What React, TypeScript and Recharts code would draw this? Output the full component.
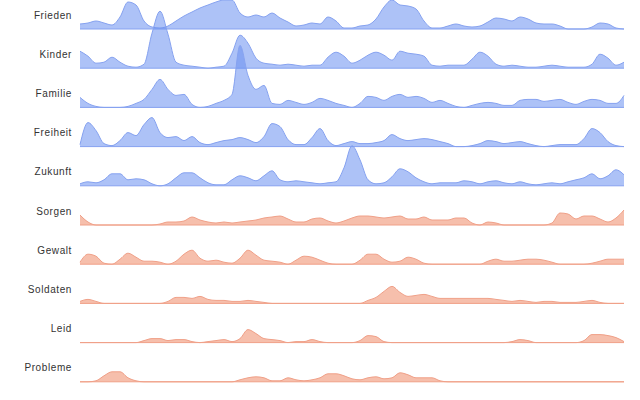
import { ComposedChart, Area, XAxis, YAxis } from 'recharts'

const rows = ['Frieden', 'Kinder', 'Familie', 'Freiheit', 'Zukunft', 'Sorgen', 'Gewalt', 'Soldaten', 'Leid', 'Probleme']

// density heights, one sample every step along the x axis
const frieden = [5, 6, 8, 6, 4, 12, 27, 24, 8, 2, 1, 3, 8, 13, 17, 21, 24, 27, 29, 29, 16, 12, 14, 12, 16, 11, 7, 3, 4, 6, 5, 12, 8, 1, 1, 3, 4, 10, 22, 29, 24, 23, 20, 8, 1, 1, 3, 5, 3, 2, 3, 7, 11, 10, 8, 12, 10, 6, 5, 5, 3, 0, 0, 0, 2, 6, 5, 1, 0]
const kinder = [17, 12, 5, 6, 11, 6, 2, 1, 4, 35, 57, 34, 6, 3, 2, 1, 0, 1, 2, 15, 33, 25, 10, 5, 4, 3, 4, 3, 2, 3, 3, 11, 16, 12, 5, 8, 13, 16, 13, 8, 17, 15, 14, 12, 3, 2, 3, 3, 3, 9, 16, 12, 4, 2, 3, 2, 1, 1, 2, 3, 2, 1, 1, 1, 4, 14, 10, 3, 6]
const familie = [10, 4, 1, 0, 0, 0, 1, 4, 8, 18, 28, 18, 12, 13, 3, 0, 1, 4, 7, 13, 62, 32, 18, 22, 4, 3, 7, 5, 3, 5, 9, 7, 4, 2, 0, 4, 11, 10, 7, 11, 13, 10, 11, 9, 5, 7, 4, 1, 0, 2, 4, 5, 4, 2, 2, 7, 8, 8, 6, 7, 8, 5, 3, 6, 8, 7, 4, 4, 12]
const freiheit = [2, 24, 16, 3, 1, 6, 14, 11, 22, 29, 14, 9, 10, 6, 10, 4, 2, 4, 6, 7, 9, 7, 4, 10, 23, 20, 7, 2, 2, 9, 18, 6, 1, 3, 5, 3, 3, 4, 6, 12, 8, 6, 7, 8, 7, 5, 3, 0, 0, 1, 3, 6, 5, 3, 4, 5, 3, 1, 0, 1, 2, 2, 2, 8, 18, 14, 5, 1, 0]
const zukunft = [2, 4, 3, 6, 12, 12, 6, 7, 6, 2, 0, 2, 8, 13, 13, 8, 3, 1, 1, 6, 10, 8, 5, 10, 15, 6, 4, 5, 4, 3, 2, 3, 4, 18, 40, 26, 6, 2, 3, 9, 17, 14, 8, 4, 2, 3, 3, 3, 5, 4, 2, 4, 5, 3, 2, 4, 2, 1, 2, 3, 2, 4, 6, 8, 12, 7, 10, 16, 11]
const sorgen = [10, 3, 0, 0, 0, 0, 0, 0, 0, 0, 1, 3, 3, 4, 8, 5, 3, 2, 3, 2, 3, 4, 5, 7, 8, 9, 6, 3, 3, 6, 7, 4, 2, 4, 7, 9, 9, 8, 7, 8, 9, 6, 6, 8, 5, 5, 5, 7, 7, 2, 0, 3, 2, 0, 0, 0, 0, 0, 0, 2, 12, 11, 6, 9, 9, 6, 3, 7, 15]
const gewalt = [2, 10, 8, 1, 0, 5, 11, 7, 3, 3, 2, 0, 3, 10, 14, 6, 3, 4, 2, 1, 6, 14, 9, 4, 3, 2, 0, 4, 8, 7, 4, 1, 0, 0, 0, 4, 10, 10, 5, 2, 3, 7, 5, 1, 0, 0, 0, 0, 0, 0, 0, 3, 5, 3, 3, 4, 5, 5, 4, 2, 0, 0, 0, 0, 1, 3, 5, 5, 5]
const soldaten = [2, 4, 2, 0, 0, 0, 0, 0, 0, 0, 0, 2, 6, 6, 5, 7, 4, 3, 3, 2, 2, 3, 2, 1, 0, 0, 0, 0, 0, 0, 0, 0, 0, 0, 0, 0, 3, 6, 12, 17, 11, 7, 8, 9, 7, 5, 5, 5, 5, 5, 5, 5, 4, 3, 2, 3, 2, 1, 2, 2, 1, 1, 1, 2, 3, 1, 0, 0, 0]
const leid = [0, 0, 0, 0, 0, 0, 0, 0, 2, 4, 4, 2, 3, 3, 1, 0, 1, 2, 3, 1, 4, 13, 9, 4, 3, 2, 0, 1, 1, 3, 1, 0, 0, 0, 0, 2, 7, 6, 1, 0, 0, 0, 0, 0, 0, 0, 0, 0, 0, 0, 0, 0, 0, 0, 1, 3, 2, 0, 0, 0, 0, 0, 0, 2, 8, 8, 7, 5, 1]
const probleme = [0, 0, 1, 6, 10, 10, 4, 1, 0, 0, 0, 0, 0, 0, 0, 0, 0, 0, 0, 0, 2, 4, 5, 4, 1, 1, 4, 2, 1, 2, 4, 8, 8, 6, 3, 2, 4, 5, 3, 4, 9, 7, 4, 4, 4, 1, 0, 0, 0, 0, 0, 0, 0, 0, 0, 0, 0, 0, 0, 0, 0, 0, 0, 0, 0, 0, 0, 0, 0]

const series = [frieden, kinder, familie, freiheit, zukunft, sorgen, gewalt, soldaten, leid, probleme]
const colors = ['blue', 'blue', 'blue', 'blue', 'blue', 'red', 'red', 'red', 'red', 'red']

const W = 640
const H = 400
const firstBase = 29
const gap = 39.2

const bases = rows.map((_, r) => H - (firstBase + r * gap))
const labelTicks = bases.map(b => b + 14)

const data = frieden.map((_, i) => {
  const row: any = { i }
  rows.forEach((name, r) => {
    row[name] = [bases[r], bases[r] + series[r][i]]
  })
  return row
})

const palette: any = {
  blue: { fill: '#6a8ff0', stroke: '#86a2f0' },
  red: { fill: '#ef8a68', stroke: '#f0a088' },
}

export default function App() {
  return (
    <div style={{ position: 'absolute', left: 0, top: 0, width: W, height: H }}>
      <ComposedChart width={W} height={H} data={data} margin={{ top: 0, right: 16, bottom: 0, left: 0 }}>
        <XAxis dataKey='i' type='number' domain={[0, frieden.length - 1]} hide />
        <YAxis
          type='number'
          domain={[0, H]}
          width={80}
          ticks={labelTicks}
          interval={0}
          axisLine={false}
          tickLine={false}
          tickFormatter={(v: number) => rows[labelTicks.indexOf(v)] ?? ''}
          tick={{ fill: '#333', fontSize: 10, fontFamily: 'Liberation Sans, Arial, sans-serif', letterSpacing: 0.6 }}
        />
        {rows.map((name, r) => (
          <Area
            key={name}
            dataKey={name}
            type='monotone'
            fill={palette[colors[r]].fill}
            fillOpacity={0.55}
            stroke={palette[colors[r]].stroke}
            strokeWidth={1}
            dot={false}
            activeDot={false}
            isAnimationActive={false}
          />
        ))}
      </ComposedChart>
    </div>
  )
}
